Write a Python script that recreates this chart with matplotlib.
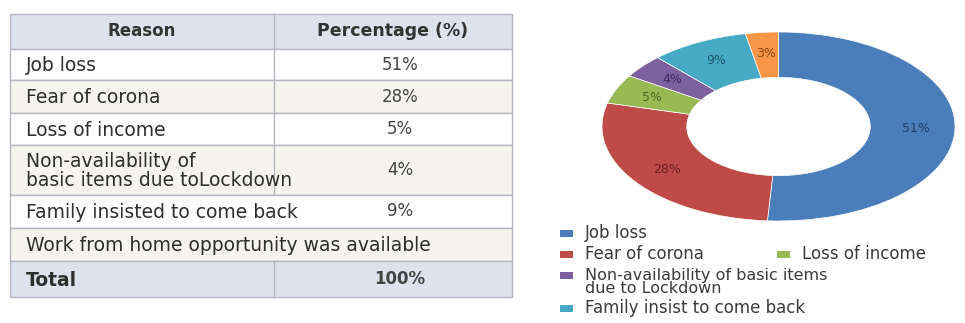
import matplotlib.pyplot as plt
from matplotlib.patches import Rectangle

# table data
reasons = ["Job loss", "Fear of corona", "Loss of income",
           "Non-availability of\nbasic items due toLockdown",
           "Family insisted to come back",
           "Work from home opportunity was available"]
table_pct = ["51%", "28%", "5%", "4%", "9%", ""]
header = ["Reason", "Percentage (%)"]
total_row = ["Total", "100%"]

# donut data
pie_labels = ["Job loss", "Fear of corona", "Loss of income",
              "Non-availability of basic items\ndue to Lockdown",
              "Family insist to come back", "Work from home"]
pie_values = [51, 28, 5, 4, 9, 3]
pie_colors = ["#4a7ebb", "#be4b48", "#98b954", "#7d60a0", "#46aac5", "#f79646"]
label_colors = ["#1f3f66", "#6b1f1d", "#4d6a22", "#3b2a57", "#1d5a6b", "#8a4a10"]

W, H = 965, 323
fig = plt.figure(figsize=(W / 100, H / 100), dpi=100)
bg = fig.add_axes([0, 0, 1, 1])
bg.set_xlim(0, W)
bg.set_ylim(H, 0)
bg.axis('off')

# ---- table ----
x0, xm, x1 = 10, 274, 512
edges = [14, 49, 80, 113, 145, 195, 228, 261, 297]
line_c = "#b4b7bf"
tfont = "DejaVu Sans"

cells = [header] + [[r, p] for r, p in zip(reasons, table_pct)] + [total_row]
fills = ["#dde2ec"] + ["#ffffff" if i % 2 == 0 else "#f6f4ef" for i in range(len(reasons))] + ["#dde2ec"]
for i, (row, fc) in enumerate(zip(cells, fills)):
    top, bot = edges[i], edges[i + 1]
    bg.add_patch(Rectangle((x0, top), x1 - x0, bot - top, facecolor=fc,
                           edgecolor=line_c, lw=1))
    ym = (top + bot) / 2
    first, last = i == 0, i == len(cells) - 1
    bold = 'bold' if (first or last) else 'normal'
    # column divider, skipped where the text runs across it
    if first or last or i <= 4:
        bg.plot([xm, xm], [top, bot], color=line_c, lw=1)
    if first:
        bg.text((x0 + xm) / 2, ym, row[0], ha='center', va='center',
                fontsize=12, fontweight='bold', color="#333333", family=tfont)
        bg.text(393, ym, row[1], ha='center', va='center',
                fontsize=12.5, fontweight='bold', color="#333333", family=tfont)
    else:
        bg.text(26, ym + 1, row[0], ha='left', va='center', fontsize=13.5,
                fontweight=bold, color="#2e2e2e", family=tfont, linespacing=0.95)
        bg.text(400, ym, row[1], ha='center', va='center', fontsize=12,
                fontweight=bold, color="#444444", family=tfont)

# ---- donut ----
ax = fig.add_axes([602 / W, (H - 221) / H, 353 / W, 189 / H])
wedges, texts, autotexts = ax.pie(pie_values, colors=pie_colors, startangle=90,
                                  counterclock=False, radius=1,
                                  wedgeprops=dict(width=0.48, linewidth=0.5, edgecolor='white'),
                                  autopct='%.0f%%', pctdistance=0.78,
                                  textprops=dict(fontsize=9))
for t, c in zip(autotexts, label_colors):
    t.set_color(c)
ax.set_aspect('auto')
ax.set_xlim(-1, 1)
ax.set_ylim(-1, 1)

# ---- legend (Excel style, last entry cut off) ----
legend_pos = [(560, 233), (560, 254), (777, 254), (560, 275), (560, 308)]
for k, (lx, ly) in enumerate(legend_pos):
    bg.add_patch(Rectangle((lx, ly - 3.5), 13, 7, facecolor=pie_colors[k], edgecolor='none'))
    txt = pie_labels[k]
    if "\n" in txt:
        bg.text(lx + 25, ly - 7, txt, ha='left', va='top', fontsize=11.5,
                color="#3a3a3a", linespacing=0.82)
    else:
        bg.text(lx + 25, ly, txt, ha='left', va='center', fontsize=12, color="#3a3a3a")

fig.savefig("out.png", dpi=100)
